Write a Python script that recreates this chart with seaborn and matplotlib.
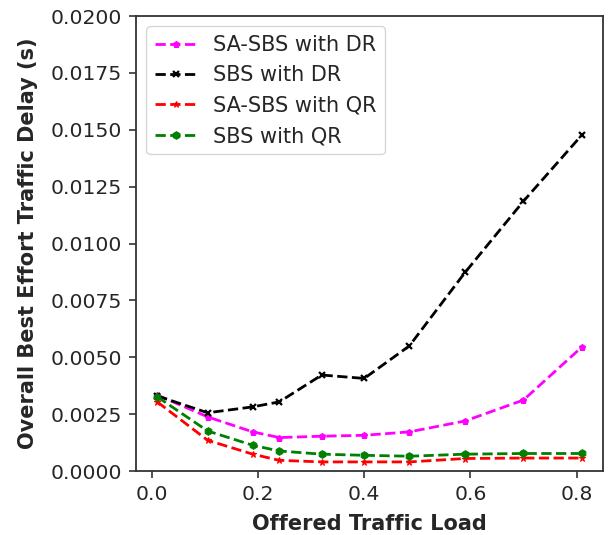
import matplotlib
matplotlib.use("Agg")
import matplotlib.pyplot as plt
import seaborn as sns
import numpy as np

# Offered traffic load (x) and mean best-effort delay in seconds (y)
load = [0.01, 0.105, 0.19, 0.24, 0.32, 0.40, 0.485, 0.59, 0.70, 0.81]

sa_sbs_dr = [0.00334, 0.00238, 0.00172, 0.00147, 0.00153, 0.00157, 0.00172, 0.00220, 0.00312, 0.00545]
sbs_dr = [0.00330, 0.00256, 0.00282, 0.00304, 0.00422, 0.00407, 0.00550, 0.00873, 0.01186, 0.01477]
sa_sbs_qr = [0.00304, 0.00135, 0.00074, 0.00047, 0.00040, 0.00040, 0.00040, 0.00055, 0.00057, 0.00057]
sbs_qr = [0.00326, 0.00176, 0.00113, 0.00088, 0.00074, 0.00069, 0.00065, 0.00074, 0.00077, 0.00077]

series_labels = ["SA-SBS with DR", "SBS with DR", "SA-SBS with QR", "SBS with QR"]

sns.set_style("ticks")
plt.rcParams["font.family"] = ["DejaVu Sans"]

fig = plt.figure(figsize=(6.16, 5.35), dpi=100)
ax = fig.add_axes([0.2208, 0.1196, 0.979 - 0.2208, 0.970 - 0.1196])

styles = [
    dict(color="magenta", marker="p", markersize=5),
    dict(color="black", marker="x", markersize=4, markeredgewidth=1.6),
    dict(color="red", marker="*", markersize=5),
    dict(color="green", marker="h", markersize=5.5),
]

for vals, lab, st in zip([sa_sbs_dr, sbs_dr, sa_sbs_qr, sbs_qr], series_labels, styles):
    sns.lineplot(x=load, y=vals, ax=ax, label=lab, linestyle="--", linewidth=2,
                 markeredgecolor=st["color"], **st)

ax.set_ylim(0, 0.02)
ax.set_yticks(np.arange(0, 0.02001, 0.0025))
ax.yaxis.set_major_formatter(matplotlib.ticker.FormatStrFormatter("%.4f"))
ax.set_xticks([0.0, 0.2, 0.4, 0.6, 0.8])
ax.tick_params(labelsize=14.7, length=5, width=1.2, color="#333333", pad=5)
for sp in ax.spines.values():
    sp.set_linewidth(1.3)
    sp.set_color("#333333")

ax.set_xlabel("Offered Traffic Load", fontsize=15, fontweight="bold", labelpad=7)
ax.set_ylabel("Overall Best Effort Traffic Delay (s)", fontsize=15, fontweight="bold", labelpad=9)

ax.legend(loc="upper left", fontsize=15, frameon=True)

fig.savefig("out.png", dpi=100)
